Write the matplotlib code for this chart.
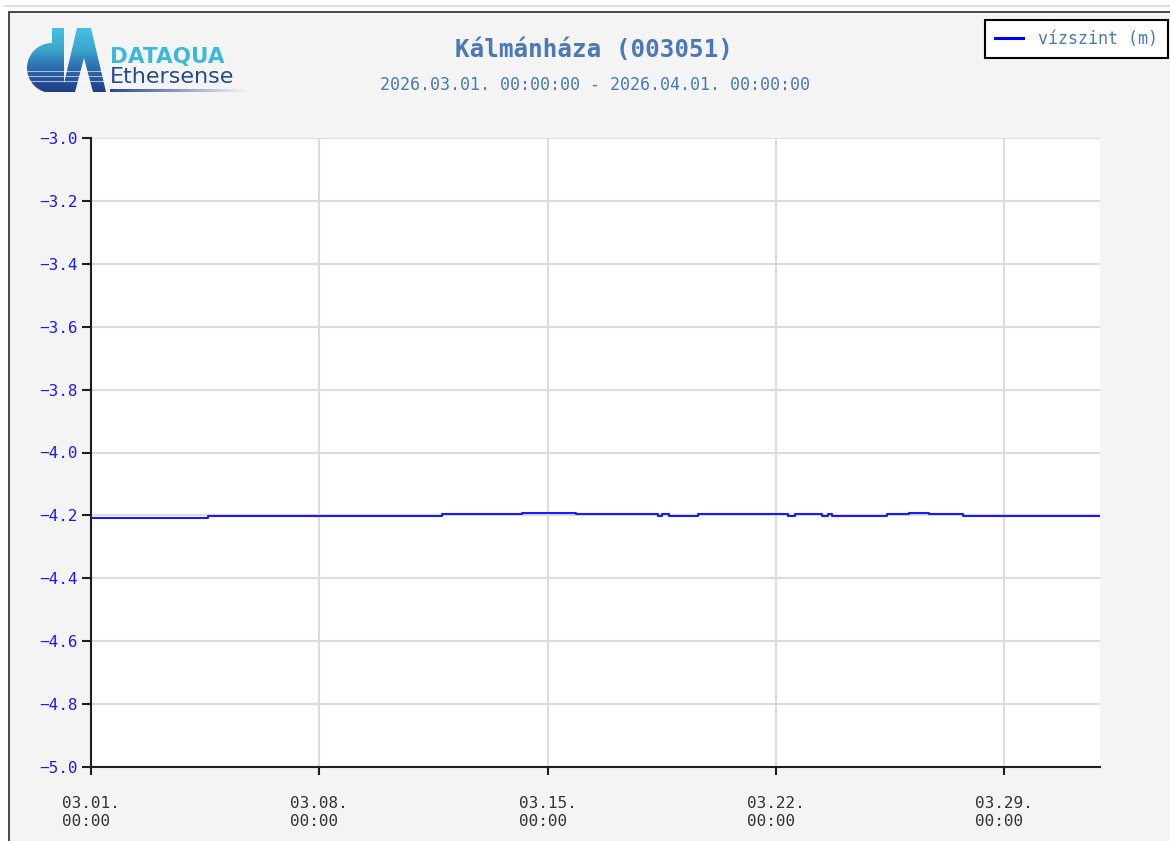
import numpy as np
import pandas as pd
import matplotlib
matplotlib.use('Agg')
import matplotlib.pyplot as plt
import matplotlib.dates as mdates
from matplotlib.patches import Rectangle, Polygon, Wedge
from matplotlib import rcParams

rcParams['font.family'] = 'DejaVu Sans Mono'

W, H = 1170, 841

# water level steps (start time of each step, level in m)
step_times = ['2026-03-01 00:00', '2026-03-04 14:00', '2026-03-11 18:00',
              '2026-03-14 05:00', '2026-03-15 21:00', '2026-03-18 09:00',
              '2026-03-18 12:00', '2026-03-18 17:00', '2026-03-19 15:00',
              '2026-03-22 09:00', '2026-03-22 14:00', '2026-03-23 10:00',
              '2026-03-23 14:00', '2026-03-23 17:00', '2026-03-25 10:00',
              '2026-03-26 02:00', '2026-03-26 17:00', '2026-03-27 18:00',
              '2026-03-31 22:30']
step_levels = [-4.209, -4.202, -4.197, -4.192, -4.197, -4.202, -4.197,
               -4.202, -4.197, -4.202, -4.197, -4.202, -4.197, -4.202,
               -4.197, -4.192, -4.197, -4.202, -4.202]

tick_days = ['2026-03-01', '2026-03-08', '2026-03-15', '2026-03-22', '2026-03-29']
y_ticks = [-5.0, -4.8, -4.6, -4.4, -4.2, -4.0, -3.8, -3.6, -3.4, -3.2, -3.0]

title = 'Kálmánháza (003051)'
subtitle = '2026.03.01. 00:00:00 - 2026.04.01. 00:00:00'
series_name = 'vízszint (m)'

title_col = '#4a78b8'
line_col = '#1a1aff'

fig = plt.figure(figsize=(W / 100, H / 100), dpi=100)
fig.patch.set_facecolor('white')

# panel background + frame (kept under the axes)
fig.add_artist(plt.Line2D([5 / W, 1], [1 - 6 / H, 1 - 6 / H], color='#dedede',
                          lw=1.5, zorder=-10))
fig.add_artist(Rectangle((9 / W, -0.05), 1.1, 1 - 12 / H + 0.05, transform=fig.transFigure,
                         facecolor='#f4f4f4', edgecolor='#2a2a2a', lw=1.2, zorder=-10))

ax = fig.add_axes([91 / W, 1 - 767 / H, 1009 / W, 629 / H])
ax.set_facecolor('white')

t = pd.to_datetime(step_times)
ax.plot(t, step_levels, drawstyle='steps-post', color=line_col, lw=1.5,
        label=series_name, zorder=3)

ax.set_xlim(t[0], t[-1])
ax.set_ylim(-5.0, -3.0)
ax.set_yticks(y_ticks)
ax.set_yticklabels([('%.1f' % v).replace('-', '\u2212') for v in y_ticks])
ax.set_xticks(pd.to_datetime(tick_days))
ax.xaxis.set_major_formatter(mdates.DateFormatter('%m.%d.\n%H:%M'))

ax.grid(True, color='#dcdcdc', lw=1.5, zorder=0)
ax.set_axisbelow(True)
for s in ['top', 'right']:
    ax.spines[s].set_visible(False)
for s in ['left', 'bottom']:
    ax.spines[s].set_color('#1e1e1e')
    ax.spines[s].set_linewidth(1.5)

ax.tick_params(axis='y', direction='out', length=6.5, width=1.5, color='#1e1e1e',
               labelsize=11.5, labelcolor='#1a1aff', pad=3)
ax.tick_params(axis='x', direction='out', length=6, width=1.5, color='#1e1e1e',
               labelsize=11.5, labelcolor='#333333', pad=15)
for lab in ax.get_xticklabels():
    lab.set_multialignment('left')

# titles
fig.text(594 / W, 1 - 50 / H, title, ha='center', va='center', fontsize=17.5,
         fontweight='bold', color=title_col)
fig.text(595 / W, 1 - 85 / H, subtitle, ha='center', va='center', fontsize=12,
         color=title_col)

# legend box top right
leg = fig.legend(loc='upper left', bbox_to_anchor=(985 / W, 1 - 20 / H),
                 borderaxespad=0, fontsize=12, labelcolor=title_col,
                 handlelength=1.7, handletextpad=0.9, borderpad=0.6,
                 fancybox=False, framealpha=1, edgecolor='black')
leg.get_frame().set_linewidth(1.5)
for h in leg.get_lines():
    h.set_linewidth(2.2)
    h.set_color('#0000ee')

# logo (pixel coordinates, y pointing down)
lax = fig.add_axes([20 / W, 1 - 97 / H, 235 / W, 72 / H])
lax.set_xlim(20, 255)
lax.set_ylim(97, 25)
lax.axis('off')

grad = np.linspace(0, 1, 64).reshape(-1, 1)
cmap = matplotlib.colors.LinearSegmentedColormap.from_list(
    'logo', ['#46c3de', '#3aa6cf', '#2a66aa', '#1f3f85'])
shapes = [
    Wedge((52, 68), 25, 90, 270),
    Rectangle((52, 28), 12, 64),
    Polygon([(62, 92), (77, 28), (91, 28), (106, 92), (93, 92), (84, 58), (75, 92)]),
]
for shp in shapes:
    shp.set_facecolor('none')
    shp.set_edgecolor('none')
    lax.add_patch(shp)
    im = lax.imshow(grad, cmap=cmap, extent=(20, 115, 92, 28), aspect='auto',
                    interpolation='bilinear')
    im.set_clip_path(shp)
for yy in (71, 76, 81):
    lax.plot([24, 108], [yy, yy], color='white', lw=0.8, alpha=0.6)
lax.set_xlim(20, 255)
lax.set_ylim(97, 25)

lax.text(110, 63, 'DATAQUA', fontsize=15.5, fontweight='bold', color='#3cb9d8',
         family='DejaVu Sans', va='baseline', ha='left')
lax.text(110, 83, 'Ethersense', fontsize=16, color='#254a8e',
         family='DejaVu Sans', va='baseline', ha='left')
fade = np.linspace(1, 0, 128).reshape(1, -1)
ul = np.zeros((1, 128, 4))
ul[..., 0], ul[..., 1], ul[..., 2] = 0.16, 0.29, 0.55
ul[..., 3] = fade
lax.imshow(ul, extent=(110, 248, 92, 89), aspect='auto', interpolation='bilinear')

fig.savefig('out.png', dpi=100, facecolor=fig.get_facecolor())
